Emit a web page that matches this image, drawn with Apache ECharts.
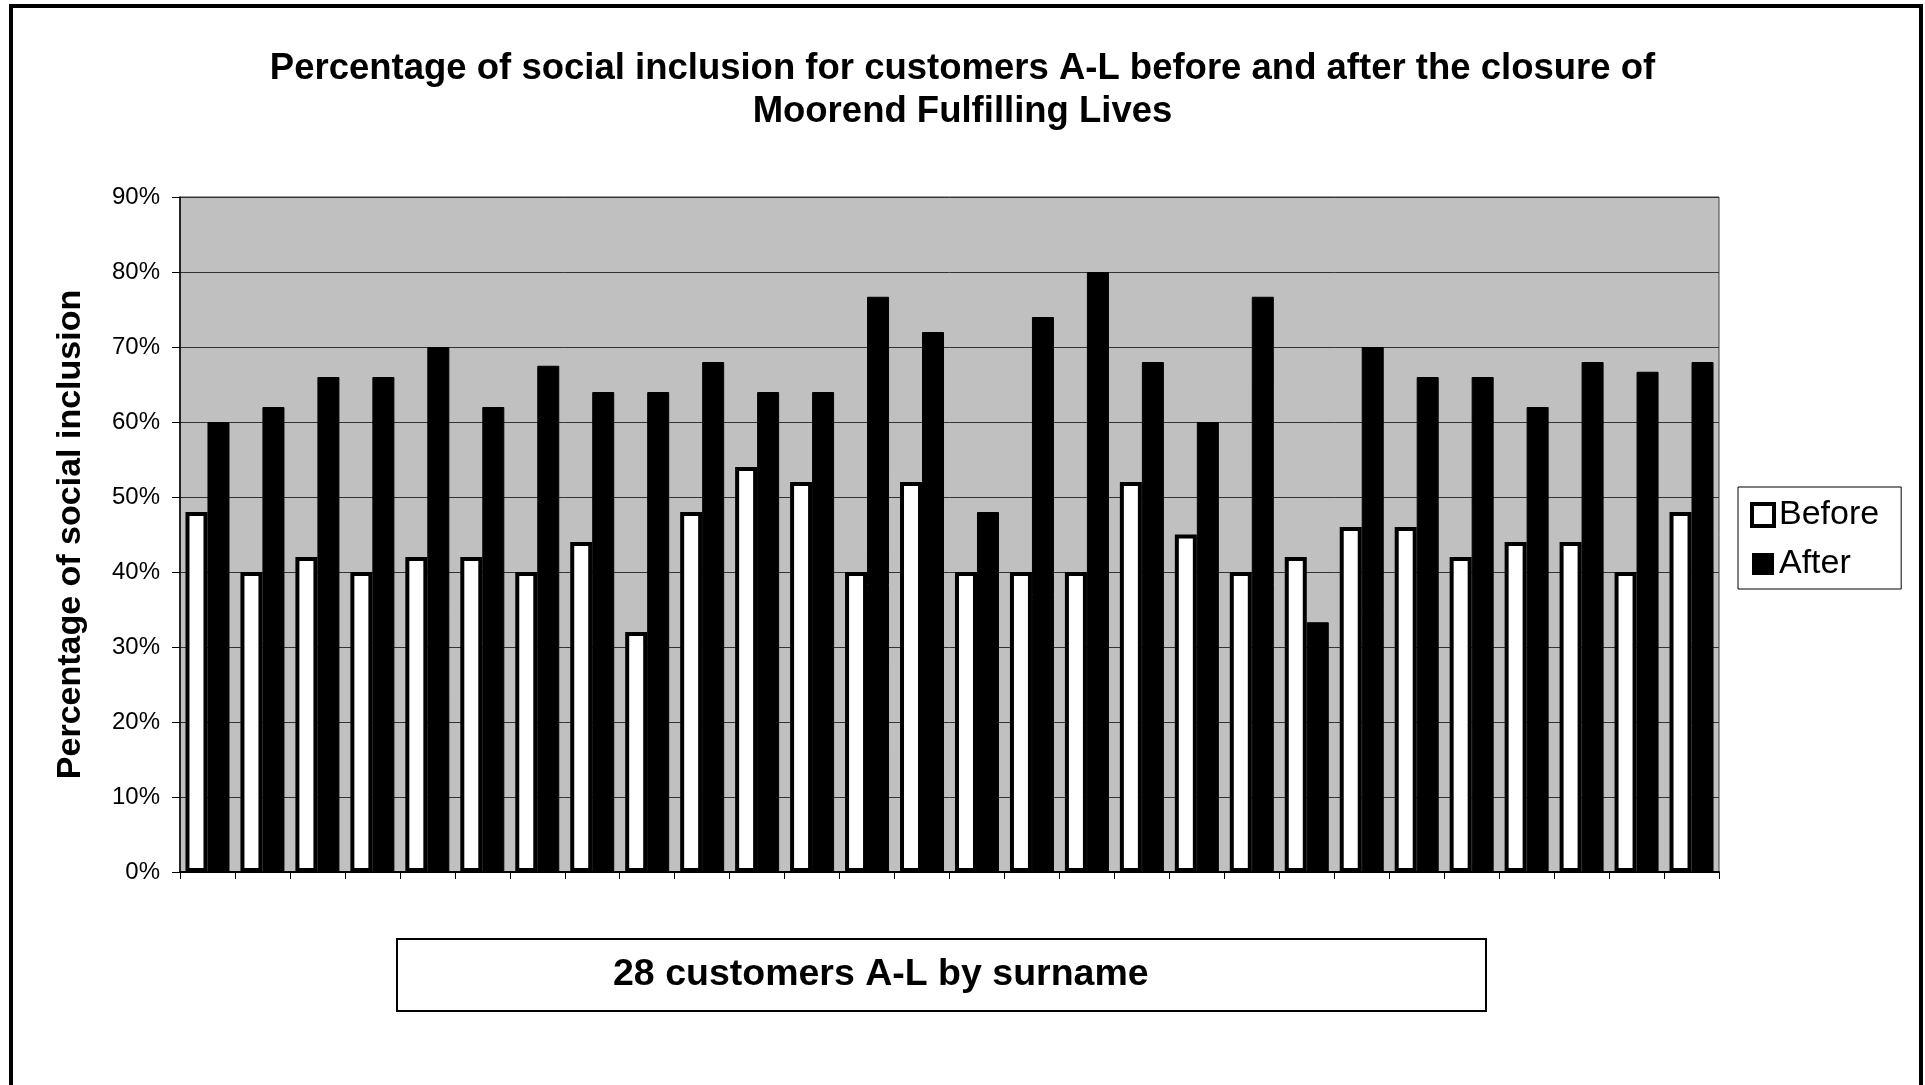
<!DOCTYPE html>
<html>
<head>
<meta charset="utf-8">
<script src="https://cdn.jsdelivr.net/npm/echarts@6/dist/echarts.min.js"></script>
<style>
  html, body { margin: 0; padding: 0; background: #fff; }
  #chart { width: 1925px; height: 1085px; }
</style>
</head>
<body>
<div id="chart"></div>
<script>
// 28 customers A-L (no labels shown on the axis)
const customers = ['1', '2', '3', '4', '5', '6', '7', '8', '9', '10', '11', '12', '13', '14',
  '15', '16', '17', '18', '19', '20', '21', '22', '23', '24', '25', '26', '27', '28']
const before = [48, 40, 42, 40, 42, 42, 40, 44, 32, 48, 54, 52, 40, 52,
  40, 40, 40, 52, 45, 40, 42, 46, 46, 42, 44, 44, 40, 48]
const after = [60, 62, 66, 66, 70, 62, 67.5, 64, 64, 68, 64, 64, 76.7, 72,
  48, 74, 80, 68, 60, 76.7, 33.3, 70, 66, 66, 62, 68, 66.7, 68]

const font = "'Liberation Sans', Arial, sans-serif"

const chart = echarts.init(document.getElementById('chart'))

const option = {
  backgroundColor: '#fff',
  animation: false,
  textStyle: { fontFamily: font, color: '#000' },
  title: {
    text: 'Percentage of social inclusion for customers A-L before and after the closure of\nMoorend Fulfilling Lives',
    left: 'center',
    top: 47,
    padding: 0,
    textStyle: {
      fontFamily: font,
      fontSize: 36.5,
      fontWeight: 'bold',
      lineHeight: 43,
      color: '#000'
    }
  },
  legend: {
    orient: 'vertical',
    left: 1738,
    top: 487,
    padding: [11, 22, 8, 12],
    borderColor: '#000',
    borderWidth: 1,
    backgroundColor: '#fff',
    itemWidth: 22,
    itemHeight: 22,
    itemGap: 15,
    itemTextGap: 9,
    textStyle: { fontFamily: font, fontSize: 34, color: '#000', lineHeight: 30 },
    data: [
      { name: 'Before', icon: 'rect', itemStyle: { color: '#fff', borderColor: '#000', borderWidth: 4 } },
      { name: 'After', icon: 'rect', itemStyle: { color: '#000', borderColor: '#000', borderWidth: 0 } }
    ]
  },
  grid: {
    left: 180,
    right: 206,
    top: 197,
    bottom: 213,
    show: true,
    backgroundColor: '#c0c0c0',
    borderColor: '#404040',
    borderWidth: 1
  },
  xAxis: {
    type: 'category',
    data: customers,
    axisLine: { lineStyle: { color: '#000', width: 2 } },
    axisTick: { show: true, length: 7, lineStyle: { color: '#000', width: 1 } },
    axisLabel: { show: false },
    splitLine: { show: false }
  },
  yAxis: {
    type: 'value',
    min: 0,
    max: 90,
    interval: 10,
    name: 'Percentage of social inclusion',
    nameLocation: 'middle',
    nameGap: 92,
    nameTextStyle: { fontFamily: font, fontSize: 34, fontWeight: 'bold', color: '#000' },
    axisLine: { show: true, lineStyle: { color: '#000', width: 1.5 } },
    axisTick: { show: true, length: 8, lineStyle: { color: '#000' } },
    axisLabel: {
      formatter: '{value}%',
      margin: 20,
      fontFamily: font,
      fontSize: 24,
      color: '#000'
    },
    splitLine: { lineStyle: { color: '#333', width: 1 } }
  },
  series: [
    {
      name: 'Before',
      type: 'bar',
      data: before,
      barWidth: 22,
      barGap: '0%',
      itemStyle: { color: '#fff', borderColor: '#000', borderWidth: 4 }
    },
    {
      name: 'After',
      type: 'bar',
      data: after,
      barWidth: 22,
      barGap: '0%',
      itemStyle: { color: '#000', borderColor: '#000', borderWidth: 1 }
    }
  ],
  graphic: [
    {
      // outer chart frame
      type: 'rect',
      shape: { x: 11, y: 6, width: 1910, height: 1100 },
      style: { fill: 'none', stroke: '#000', lineWidth: 4 },
      silent: true
    },
    {
      // x axis title box
      type: 'rect',
      shape: { x: 397, y: 939, width: 1089, height: 72 },
      style: { fill: '#fff', stroke: '#000', lineWidth: 2 },
      silent: true
    },
    {
      type: 'text',
      left: 613,
      top: 956,
      style: {
        text: '28 customers A-L by surname',
        fontFamily: font,
        fontSize: 37.5,
        fontWeight: 'bold',
        fill: '#000'
      },
      silent: true
    }
  ]
}

chart.setOption(option)
</script>
</body>
</html>
